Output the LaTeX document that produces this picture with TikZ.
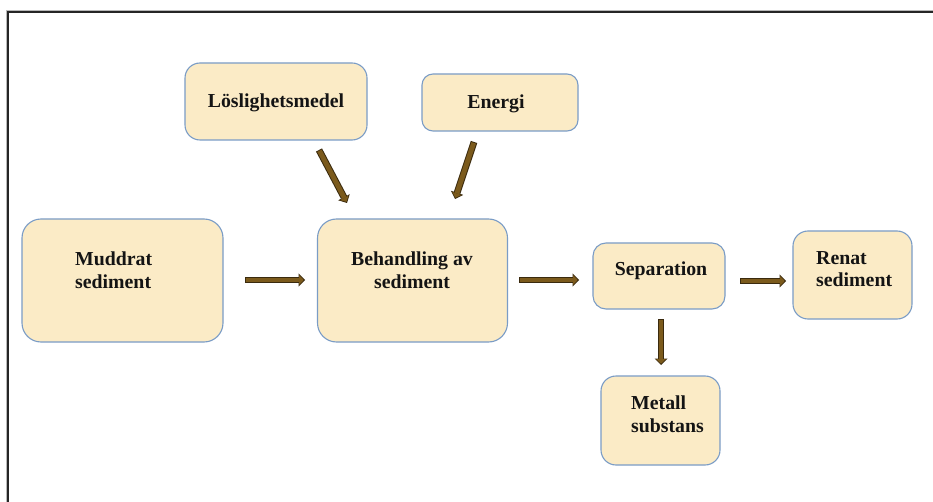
\documentclass[tikz,border=0pt]{standalone}
\usepackage{fontspec}
\setmainfont{Liberation Serif}
\usetikzlibrary{arrows.meta,calc}
\definecolor{boxfill}{HTML}{FBEBC6}
\definecolor{boxedge}{HTML}{7A9CC6}
\definecolor{arrowbrown}{HTML}{7B5A1C}
\definecolor{arrowdark}{HTML}{3A2A0E}
\begin{document}
\begin{tikzpicture}[x=1pt,y=-1pt,
  box/.style={draw=boxedge, fill=boxfill, line width=1.1pt, inner sep=0pt, outer sep=0pt},
  lbl/.style={font=\bfseries\fontsize{19.8}{22.5}\selectfont, inner sep=0pt, text=black!92},
  fat/.style={draw=arrowbrown, line width=4.8pt,
    -{Triangle[length=4.5pt,width=9.5pt,line width=0pt]},
    shorten >=1.3pt, shorten <=0.9pt,
    preaction={draw=arrowdark, line width=6.8pt,
      -{Triangle[length=6.5pt,width=13pt,line width=0pt]},
      shorten >=0pt, shorten <=0pt}}]
\useasboundingbox (0,0) rectangle (933,502);
\fill[white] (0,0) rectangle (933,502);
% frame
\draw[gray!55, line width=1pt] (6.5,520) -- (6.5,10.3) -- (950,10.3);
\draw[black!85, line width=1.7pt] (8.2,520) -- (8.2,11.8) -- (950,11.8);
% boxes
\node[box, rounded corners=15pt, minimum width=182pt, minimum height=77pt] (los) at (276,101.5) {};
\node[box, rounded corners=11pt, minimum width=156pt, minimum height=57pt] (ene) at (500,102.5) {};
\node[box, rounded corners=19pt, minimum width=201pt, minimum height=123pt] (mud) at (122.5,280.5) {};
\node[box, rounded corners=19pt, minimum width=190pt, minimum height=123pt] (beh) at (412.5,280.5) {};
\node[box, rounded corners=13pt, minimum width=132pt, minimum height=66pt] (sep) at (659,276) {};
\node[box, rounded corners=15pt, minimum width=119pt, minimum height=88pt] (ren) at (852.5,275) {};
\node[box, rounded corners=15pt, minimum width=119pt, minimum height=89pt] (met) at (660.5,420.5) {};
% labels
\node[lbl] (lost) at (276,103) {Löslighetsmedel};
\node[lbl] (enet) at (496,103.5) {Energi};
\node[lbl, anchor=west, align=left] (mudt) at (75,270) {Muddrat\\sediment};
\node[lbl, align=center] (beht) at (412,270) {Behandling av\\sediment};
\node[lbl] (sept) at (661,270.5) {Separation};
\node[lbl, anchor=west, align=left] (rent) at (816,269) {Renat\\sediment};
\node[lbl, anchor=west, align=left] (mett) at (631,414) {Metall\\substans};
% arrows
\draw[fat] ($(mud.east)+(22,-0.5)$) -- ($(beh.west)+(-12.5,-0.5)$);
\draw[fat] ($(beh.east)+(11.5,-0.5)$) -- ($(sep.west)+(-14,4)$);
\draw[fat] ($(sep.east)+(15,5)$) -- ($(ren.west)+(-7,6)$);
\draw[fat] ($(sep.south)+(2,10)$) -- ($(met.north)+(0.5,-11)$);
\draw[fat] ($(los.south)+(43,10)$) -- ($(beh.north)+(-65.5,-16)$);
\draw[fat] ($(ene.south)+(-26,11)$) -- ($(beh.north)+(42.5,-20)$);
\end{tikzpicture}
\end{document}
